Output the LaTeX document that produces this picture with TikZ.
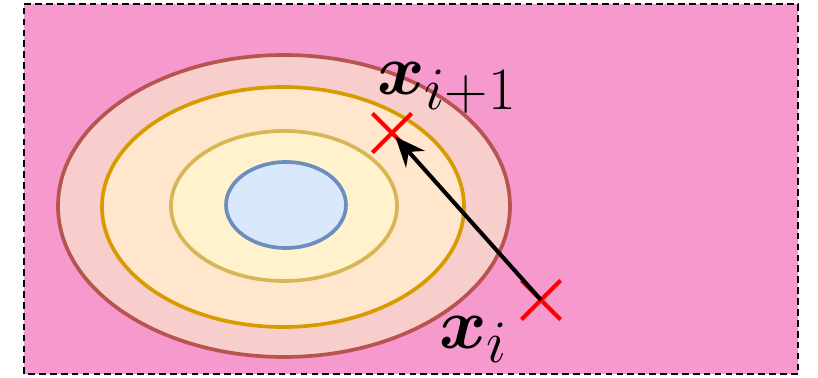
\documentclass[tikz,border=0pt]{standalone}
\usepackage{amsmath,amssymb}
\usepackage{bm}
\usetikzlibrary{positioning,arrows.meta,shapes.geometric,shapes.misc}

\definecolor{bgpink}{HTML}{F699CC}
\definecolor{redfill}{HTML}{F8CECC}
\definecolor{redline}{HTML}{B85450}
\definecolor{orangefill}{HTML}{FFE6CC}
\definecolor{orangeline}{HTML}{D79B00}
\definecolor{yellowfill}{HTML}{FFF2CC}
\definecolor{yellowline}{HTML}{D6B656}
\definecolor{bluefill}{HTML}{DAE8FC}
\definecolor{blueline}{HTML}{6C8EBF}

\newcommand{\iterlabel}[1]{\scalebox{1.65}{$#1$}}

\begin{document}
\begin{tikzpicture}[
  level/.style={ellipse, draw, line width=2.1pt, inner sep=0pt},
  crossmark/.style={cross out, draw=red, line width=2.4pt, minimum size=7mm, inner sep=0pt},
  arrow/.style={-{Stealth[length=6mm, width=5mm]}, line width=2.3pt},
  label/.style={font=\Huge, inner sep=0pt}
]
  \useasboundingbox (0,0) rectangle (16.36,7.56);
  \draw[fill=bgpink, line width=1.5pt, dash pattern=on 3.8pt off 2.4pt] (0.48,0.08) rectangle (15.96,7.48);

  % contour levels
  \node[level, draw=redline, fill=redfill, minimum width=9.04cm, minimum height=6.04cm] (outer) at (5.68,3.44) {};
  \node[level, draw=orangeline, fill=orangefill, minimum width=7.24cm, minimum height=4.8cm] (middle) at (5.66,3.42) {};
  \node[level, draw=yellowline, fill=yellowfill, minimum width=4.52cm, minimum height=3cm] (inner) at (5.68,3.44) {};
  \node[level, draw=blueline, fill=bluefill, minimum width=2.4cm, minimum height=1.72cm] (core) at (5.72,3.46) {};

  % iterates
  \node[crossmark] (xi) at (10.82,1.56) {};
  \node[crossmark] (xnext) at (7.84,4.9) {};
  \draw[arrow, shorten >=1mm] (xi.center) -- (xnext.center);

  \node[label, anchor=base west] (lnext) at (7.54,5.66) {\iterlabel{\bm{x}_{i+1}}};
  \node[label, anchor=base west] (li) at (8.78,0.6) {\iterlabel{\bm{x}_i}};
\end{tikzpicture}
\end{document}
